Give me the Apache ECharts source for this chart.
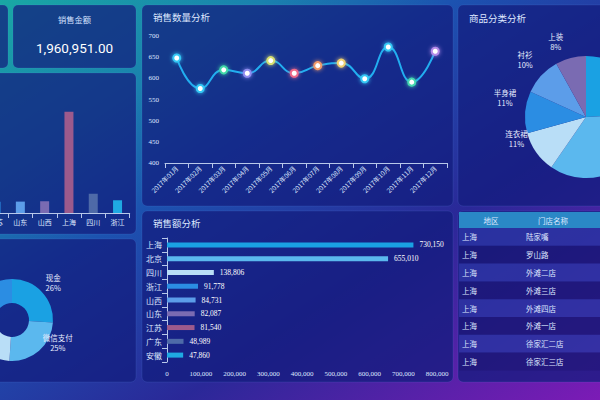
<!DOCTYPE html>
<html><head><meta charset="utf-8">
<script src="https://cdn.jsdelivr.net/npm/echarts@6/dist/echarts.min.js"></script>
<style>html,body{margin:0;padding:0;width:600px;height:400px;overflow:hidden;background:#1c4fa8}#c{width:600px;height:400px}</style>
</head><body><div id="c"></div>
<script>
// ---------- data ----------
const totalSalesTitle = '销售金额';
const totalSalesValue = '1,960,951.00';

const lineTitle = '销售数量分析';
const months = ['2017年01月','2017年02月','2017年03月','2017年04月','2017年05月','2017年06月','2017年07月','2017年08月','2017年09月','2017年10月','2017年11月','2017年12月'];
const quantities = [648, 576, 620, 612, 642, 612, 630, 636, 599, 674, 591, 664];
const quantityMin = 400, quantityMax = 700, quantityStep = 50;

const hbarTitle = '销售额分析';
const regions = ['上海','北京','四川','浙江','山西','山东','江苏','广东','安徽'];
const regionSales = [730150, 655010, 138806, 91778, 84731, 82087, 81540, 48989, 47860];
const salesMax = 800000, salesStep = 100000;

const barRegions = ['安徽','北京','广东','江苏','山东','山西','上海','四川','浙江'];
const barValues = [47860, 655010, 48989, 81540, 82087, 84731, 730150, 138806, 91778];

const pieTitle = '商品分类分析';
const categories = ['外套','裤装','连衣裙','半身裙','衬衫','上装'];
const categoryValues = [24, 35, 11, 11, 10, 8];

const payMethods = ['现金','微信支付','支付宝','银行卡'];
const payValues = [26, 25, 27, 22];

const tableHeaders = ['地区','门店名称'];
const tableRegions = ['上海','上海','上海','上海','上海','上海','上海','上海'];
const tableStores = ['陆家嘴','罗山路','外滩二店','外滩三店','外滩四店','外滩一店','徐家汇二店','徐家汇三店'];

// ---------- styles ----------
const palette = ['#1aa1e3','#5bb8ee','#b9def7','#2b8de3','#5c9de9','#7a6bb2','#9c5a8c','#4e6aa8','#1fa9e2'];
const pointColors = ['#35c8f5','#35c8f5','#40d8a8','#8f8cf0','#d8e070','#f06a8a','#f09a6a','#f0d070','#35c8f5','#35c8f5','#45d8b0','#b48ae8'];
const CJK = '"Noto Sans CJK SC", "Noto Sans", sans-serif';
const SERIF = '"Liberation Serif", "DejaVu Serif", serif';
const txt = '#dfe8ff';

const chart = echarts.init(document.getElementById('c'), null, {renderer: 'svg', width: 600, height: 400});

const panelFill = 'rgba(18,28,125,0.72)';
function panel(x, y, w, h) {
  return {type: 'rect', z: -5, silent: true, shape: {x, y, width: w, height: h, r: 5},
    style: {fill: panelFill, stroke: 'rgba(120,170,255,0.12)', lineWidth: 1}};
}
function text(x, y, s, opt) {
  return Object.assign({type: 'text', z: 5, silent: true, x, y,
    style: Object.assign({text: s, fill: txt, fontSize: 9.5, fontFamily: CJK,
      textAlign: 'left', align: 'left', textVerticalAlign: 'middle', verticalAlign: 'middle'}, opt || {})});
}

const graphics = [
  {type: 'rect', z: -10, silent: true, shape: {x: 0, y: 0, width: 600, height: 400},
   style: {fill: new echarts.graphic.LinearGradient(0, 0, 1, 1, [
     {offset: 0, color: '#19a8a4'}, {offset: 0.22, color: '#1a82ae'}, {offset: 0.38, color: '#1c52b0'},
     {offset: 0.65, color: '#2a2898'}, {offset: 1, color: '#7c1bb6'}])}},
  panel(-10, 5, 18, 63),
  panel(13, 5, 123, 63),
  panel(142, 5, 311, 201),
  panel(458, 5, 152, 201),
  panel(-10, 73, 146, 161),
  panel(-10, 239, 146, 143),
  panel(142, 211, 311, 171),
  panel(458, 211, 152, 171),
  text(74.5, 19, totalSalesTitle, {fontSize: 8.3, textAlign: 'center', align: 'center', fill: '#d6e2ff'}),
  text(74.5, 48, totalSalesValue, {fontSize: 13.5, textAlign: 'center', align: 'center', fill: '#ffffff',
    fontFamily: 'Roboto, "Noto Sans", sans-serif'}),
  text(153, 17, lineTitle),
  text(469, 18, pieTitle),
  text(153, 223, hbarTitle),
];

// table
const tx = 459, headerY = 212, headerH = 16, rowH = 17.8;
graphics.push({type: 'rect', z: 1, silent: true, shape: {x: tx, y: headerY, width: 145, height: headerH},
  style: {fill: '#2a88c6'}});
graphics.push(text(491, headerY + headerH / 2, tableHeaders[0], {fontSize: 7.5, textAlign: 'center', align: 'center'}));
graphics.push(text(553, headerY + headerH / 2, tableHeaders[1], {fontSize: 7.5, textAlign: 'center', align: 'center'}));
tableStores.forEach((s, i) => {
  const y = headerY + headerH + i * rowH;
  graphics.push({type: 'rect', z: 1, silent: true, shape: {x: tx, y, width: 145, height: rowH},
    style: {fill: i % 2 === 0 ? 'rgba(80,100,230,0.28)' : 'rgba(20,10,90,0.25)'}});
  graphics.push(text(462, y + rowH / 2, tableRegions[i], {fontSize: 7.5}));
  graphics.push(text(526, y + rowH / 2, s, {fontSize: 7.5}));
});

const axisLineStyle = {lineStyle: {color: '#b8c8ea', width: 1}};
const gridBase = {containLabel: false, outerBoundsMode: 'none'};
const hiddenLabel = {label: {show: false}};
const pieRich = {c: {align: 'center', fontSize: 7.5, lineHeight: 10, color: '#e8eeff', fontFamily: CJK}};

const option = {
  animation: false,
  color: palette,
  graphic: {elements: graphics},
  grid: [
    Object.assign({left: 165, top: 36, width: 282, height: 127}, gridBase),
    Object.assign({left: -89, top: 102, width: 218.7, height: 111}, gridBase),
    Object.assign({left: 167, top: 238, width: 270, height: 124}, gridBase)
  ],
  xAxis: [
    {gridIndex: 0, type: 'category', data: months, boundaryGap: true,
     axisLine: axisLineStyle, axisTick: {show: true, lineStyle: {color: '#b8c8ea'}},
     axisLabel: {rotate: 45, fontSize: 6.5, color: txt, margin: 4, fontFamily: CJK, interval: 0}},
    {gridIndex: 1, type: 'category', data: barRegions, boundaryGap: true,
     axisLine: axisLineStyle, axisTick: {show: true, lineStyle: {color: '#b8c8ea'}},
     axisLabel: {fontSize: 7, color: txt, margin: 5, fontFamily: CJK, interval: 0}},
    {gridIndex: 2, type: 'value', min: 0, max: salesMax, interval: salesStep,
     axisLine: {show: false}, axisTick: {show: false}, splitLine: {show: false},
     axisLabel: {fontSize: 7, color: txt, margin: 8, fontFamily: SERIF}}
  ],
  yAxis: [
    {gridIndex: 0, type: 'value', min: quantityMin, max: quantityMax, interval: quantityStep,
     axisLine: {show: false}, axisTick: {show: false}, splitLine: {show: false},
     axisLabel: {fontSize: 7, color: txt, margin: 6, fontFamily: SERIF}},
    {gridIndex: 1, type: 'value', min: 0, max: salesMax, show: false, splitLine: {show: false}},
    {gridIndex: 2, type: 'category', data: regions, inverse: true,
     axisLine: axisLineStyle, axisTick: {show: true, lineStyle: {color: '#b8c8ea'}},
     axisLabel: {fontSize: 8, color: txt, margin: 5, fontFamily: CJK, interval: 0}}
  ],
  series: [
    {type: 'line', xAxisIndex: 0, yAxisIndex: 0, smooth: true, symbol: 'circle', symbolSize: 7,
     showAllSymbol: true, silent: true,
     lineStyle: {color: '#22aef0', width: 2},
     itemStyle: {color: '#ffffff', borderWidth: 2, shadowBlur: 4},
     data: quantities.map((v, i) => ({value: v, itemStyle: {borderColor: pointColors[i], shadowColor: pointColors[i]}}))},
    {type: 'bar', xAxisIndex: 1, yAxisIndex: 1, barWidth: 9, silent: true,
     data: barValues.map((v, i) => ({value: v, itemStyle: {color: palette[i % palette.length]}}))},
    {type: 'bar', xAxisIndex: 2, yAxisIndex: 2, barWidth: 5, silent: true,
     label: {show: true, position: 'right', distance: 6, fontSize: 7.5, color: '#ffffff', fontFamily: SERIF,
       formatter: p => p.value.toLocaleString('en-US')},
     data: regionSales.map((v, i) => ({value: v, itemStyle: {color: palette[i % palette.length]}}))},
    {type: 'pie', center: [586, 117], radius: 61, silent: true, avoidLabelOverlap: false, percentPrecision: 0,
     label: {formatter: '{c|{b}}\n{c|{d}%}', color: '#e8eeff', fontSize: 7.5, fontFamily: CJK,
       rich: pieRich, distanceToLabelLine: 5},
     labelLine: {show: false, length: 2, length2: 2},
     labelLayout: {dy: -15},
     data: categories.map((n, i) => Object.assign({name: n, value: categoryValues[i], itemStyle: {color: palette[i]}},
       i < 2 ? hiddenLabel : {}))},
    {type: 'pie', center: [12, 320], radius: [17, 41], silent: true, avoidLabelOverlap: false, percentPrecision: 0,
     label: {formatter: '{c|{b}}\n{c|{d}%}', color: '#e8eeff', fontSize: 7.5, fontFamily: CJK,
       rich: pieRich, distanceToLabelLine: 3},
     labelLine: {show: false, length: 1, length2: 0},
     labelLayout: {dy: -9},
     data: payMethods.map((n, i) => Object.assign({name: n, value: payValues[i], itemStyle: {color: palette[i]}},
       i >= 2 ? hiddenLabel : {}))}
  ]
};
chart.setOption(option);
</script>
</body></html>
